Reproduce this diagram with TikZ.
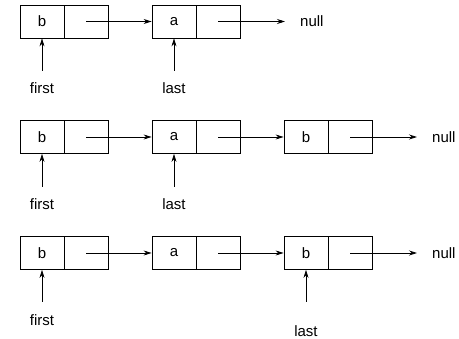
\documentclass[tikz,border=0pt]{standalone}
\usepackage{fontspec}
\setmainfont{Liberation Sans}
\usetikzlibrary{arrows.meta}
\begin{document}
\begin{tikzpicture}[x=1pt,y=-1pt,
  cell/.style={draw, minimum width=44pt, minimum height=33pt, inner sep=0pt, line width=0.8pt, font=\fontsize{15}{17}\selectfont},
  ptr/.style={-{Stealth[length=8pt,width=5pt]}, line width=0.8pt},
  lbl/.style={font=\fontsize{15}{17}\selectfont, inner sep=0pt}]
\useasboundingbox (0,0) rectangle (459,339);
% Row 1
\node[cell] (a1) at (42,21.5) {b};
\node[cell] (a1n) at (86,21.5) {};
\node[cell] (b1) at (174,21.5) {a};
\node[cell] (b1n) at (218,21.5) {};
\node[lbl, anchor=west] (n1) at (300,21.5) {null};
\coordinate (e1) at (285,21.5);
\draw[ptr] (a1n.center) -- (b1.west);
\draw[ptr] (b1n.center) -- (e1);
\coordinate (f1) at (42,71);
\coordinate (l1) at (174,71);
\node[lbl] (fl1) at (42,88) {first};
\node[lbl] (ll1) at (174,88) {last};
\draw[ptr] (f1) -- (a1.south);
\draw[ptr] (l1) -- (b1.south);
% Row 2
\node[cell] (a2) at (42,137) {b};
\node[cell] (a2n) at (86,137) {};
\node[cell] (b2) at (174,137) {a};
\node[cell] (b2n) at (218,137) {};
\node[cell] (c2) at (306,137) {b};
\node[cell] (c2n) at (350,137) {};
\node[lbl, anchor=west] (n2) at (432,137) {null};
\coordinate (e2) at (417,137);
\draw[ptr] (a2n.center) -- (b2.west);
\draw[ptr] (b2n.center) -- (c2.west);
\draw[ptr] (c2n.center) -- (e2);
\coordinate (f2) at (42,187);
\coordinate (l2) at (174,187);
\node[lbl] (fl2) at (42,204) {first};
\node[lbl] (ll2) at (174,204) {last};
\draw[ptr] (f2) -- (a2.south);
\draw[ptr] (l2) -- (b2.south);
% Row 3
\node[cell] (a3) at (42,253) {b};
\node[cell] (a3n) at (86,253) {};
\node[cell] (b3) at (174,253) {a};
\node[cell] (b3n) at (218,253) {};
\node[cell] (c3) at (306,253) {b};
\node[cell] (c3n) at (350,253) {};
\node[lbl, anchor=west] (n3) at (432,253) {null};
\coordinate (e3) at (417,253);
\draw[ptr] (a3n.center) -- (b3.west);
\draw[ptr] (b3n.center) -- (c3.west);
\draw[ptr] (c3n.center) -- (e3);
\coordinate (f3) at (42,302);
\coordinate (l3) at (306,302);
\node[lbl] (fl3) at (42,320) {first};
\node[lbl] (ll3) at (306,331) {last};
\draw[ptr] (f3) -- (a3.south);
\draw[ptr] (l3) -- (c3.south);
\end{tikzpicture}
\end{document}
